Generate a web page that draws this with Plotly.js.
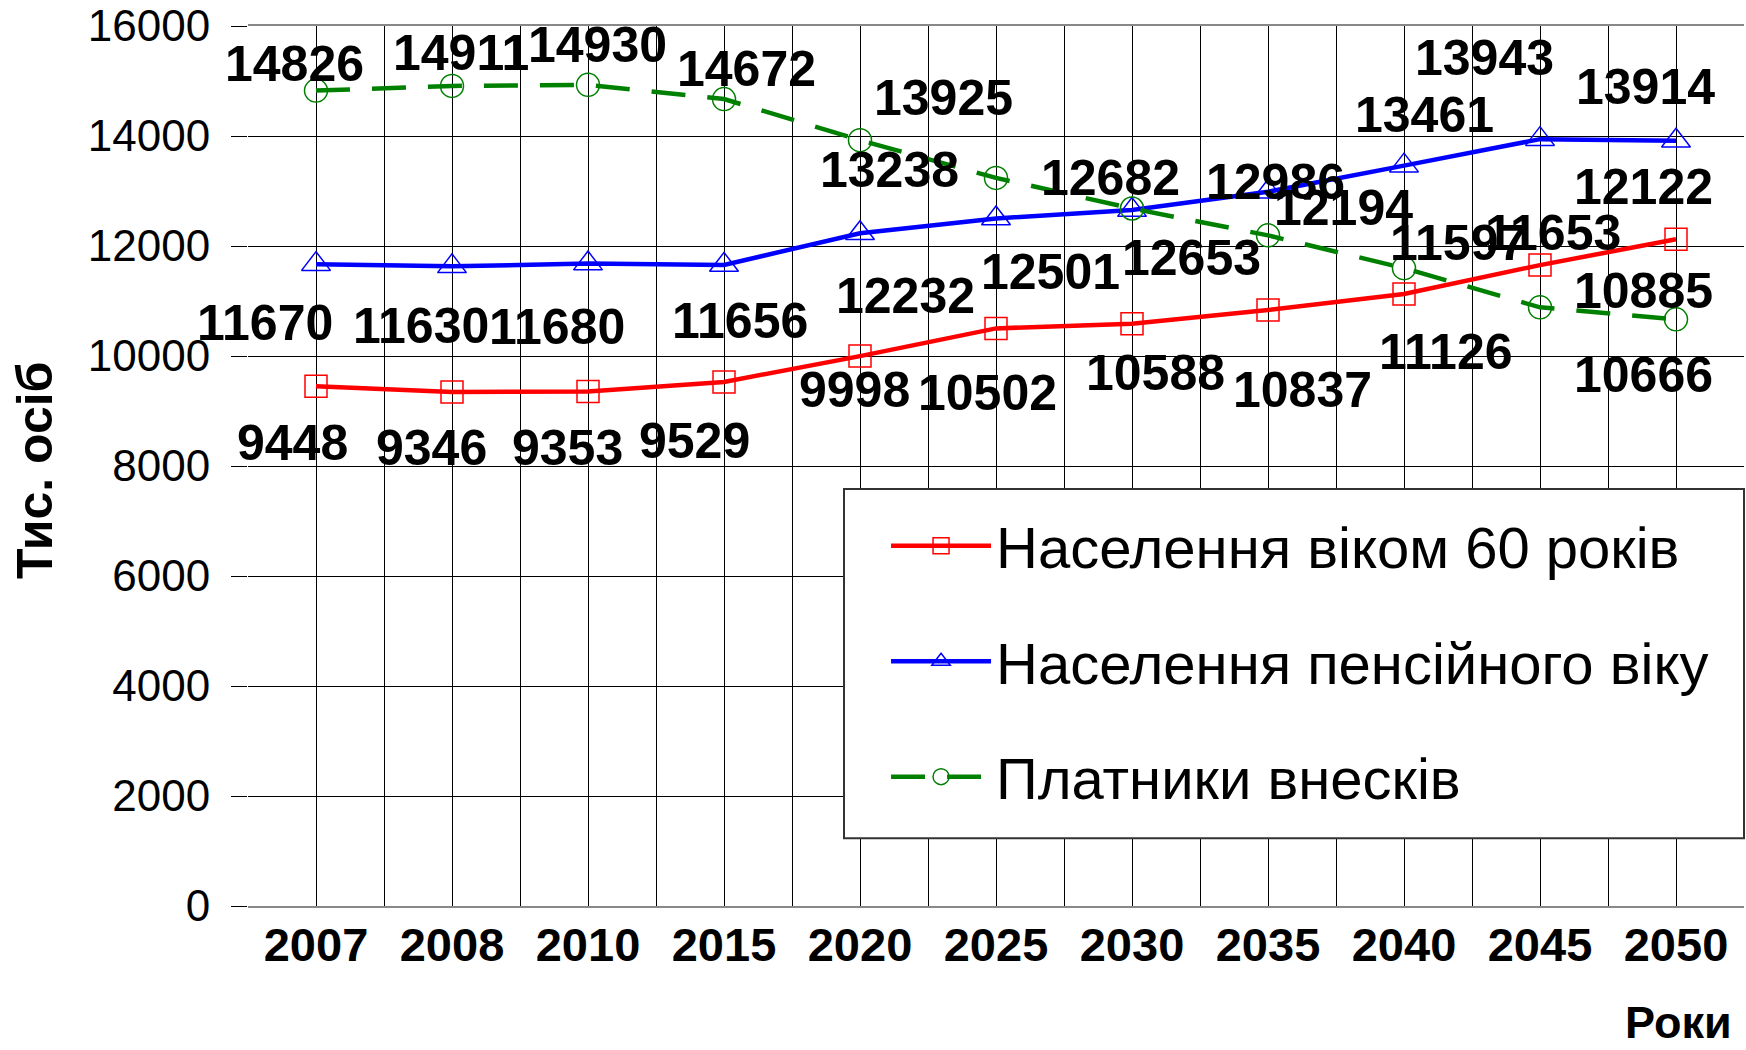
<!DOCTYPE html>
<html>
<head>
<meta charset="utf-8">
<script src="https://cdn.plot.ly/plotly-3.0.1.min.js"></script>
<style>
  html, body { margin: 0; padding: 0; background: #ffffff; }
  #chart { width: 1746px; height: 1050px; }
</style>
</head>
<body>
<div id="chart"></div>
<script>
// ---------- data ----------
const years = ['2007', '2008', '2010', '2015', '2020', '2025', '2030', '2035', '2040', '2045', '2050'];
const age60 = [9448, 9346, 9353, 9529, 9998, 10502, 10588, 10837, 11126, 11653, 12122];
const pensionAge = [11670, 11630, 11680, 11656, 12232, 12501, 12653, 12986, 13461, 13943, 13914];
const contributors = [14826, 14911, 14930, 14672, 13925, 13238, 12682, 12194, 11597, 10885, 10666];
const seriesNames = ['Населення віком 60 років', 'Населення пенсійного віку', 'Платники внесків'];
const yAxisTitle = 'Тис. осіб';
const xAxisTitle = 'Роки';

// ---------- styles ----------
const colors = ['#ff0000', '#0000ff', '#008000'];
const symbols = ['square-open', 'triangle-up-open', 'circle-open'];
const markerSizes = [22, 25, 23];
const dashes = ['solid', 'solid', '34px,22px'];
// label offsets in pixels relative to each point: [dx, dy] (dy positive = down)
const labelOffsets = [
  [[-24, 57], [-21, 56], [-21, 56], [-30, 59], [-6, 34], [-9, 65], [23, 49], [34, 80], [42, 58], [13, -32], [-33, -52]],
  [[-51, 59], [-31, 60], [-31, 63], [16, 56], [45, 63], [54, 54], [59, 48], [7, -10], [20, -51], [-56, -81], [-31, -54]],
  [[-22, -27], [9, -33], [9, -40], [22, -30], [83, -42], [-107, -8], [-22, -30], [75, -27], [54, -25], [103, -16], [-33, 56]]
];

const seriesValues = [age60, pensionAge, contributors];
const SANS = '"Liberation Sans", Arial, sans-serif';

const traces = seriesValues.map((vals, i) => ({
  type: 'scatter',
  mode: 'lines+markers',
  x: years,
  y: vals,
  name: seriesNames[i],
  legendgroup: 'g' + i,
  line: { color: colors[i], width: 4.5, dash: dashes[i] },
  marker: { symbol: symbols[i], size: markerSizes[i], color: colors[i], line: { color: colors[i], width: 1.5 } },
  hoverinfo: 'x+y+name',
  xaxis: 'x',
  yaxis: 'y'
}));

// helper trace for the boundary gridlines axis
traces.push({
  type: 'scatter', mode: 'none', x: years, y: years.map(() => null),
  xaxis: 'x2', yaxis: 'y', showlegend: false, hoverinfo: 'skip'
});

const annotations = [];
seriesValues.forEach((vals, i) => {
  vals.forEach((v, j) => {
    annotations.push({
      x: j, y: v, xref: 'x', yref: 'y',
      text: '<b>' + v + '</b>', showarrow: false,
      xanchor: 'center', yanchor: 'middle',
      xshift: labelOffsets[i][j][0], yshift: -labelOffsets[i][j][1],
      font: { family: SANS, size: 50, color: '#000000' }
    });
  });
});

// axis titles placed like the original
annotations.push({
  xref: 'paper', yref: 'paper', x: -0.1424, y: 0.4955,
  text: '<b>' + yAxisTitle + '</b>', textangle: -90, showarrow: false,
  xanchor: 'center', yanchor: 'middle',
  font: { family: SANS, size: 50, color: '#000000' }
});
annotations.push({
  xref: 'paper', yref: 'paper', x: 0.9559, y: -0.1636,
  text: '<b>' + xAxisTitle + '</b>', showarrow: false,
  xanchor: 'center', yanchor: 'bottom',
  font: { family: SANS, size: 45, color: '#000000' }
});

const layout = {
  width: 1746,
  height: 1050,
  margin: { l: 248, r: 2, t: 26, b: 144, pad: 0 },
  paper_bgcolor: '#ffffff',
  plot_bgcolor: '#ffffff',
  showlegend: true,
  legend: {
    x: 0.4265, y: 0.4595, xanchor: 'left', yanchor: 'top',
    bgcolor: 'rgba(0,0,0,0)', borderwidth: 0,
    font: { family: SANS, size: 58, color: '#000000' },
    tracegroupgap: 37,
    itemwidth: 100
  },
  xaxis: {
    type: 'category',
    categoryorder: 'array', categoryarray: years,
    range: [-0.5, years.length - 0.5],
    tickson: 'labels',
    showgrid: true, gridcolor: '#000000', gridwidth: 1,
    showline: true, linecolor: '#888888', linewidth: 2, mirror: true,
    ticks: '', ticklabelstandoff: -3,
    tickfont: { family: SANS, size: 47, color: '#000000', weight: 'bold' },
    zeroline: false
  },
  xaxis2: {
    type: 'category', overlaying: 'x', anchor: 'y',
    categoryorder: 'array', categoryarray: years,
    range: [-0.5, years.length - 0.5],
    tickson: 'boundaries',
    showgrid: true, gridcolor: '#000000', gridwidth: 1,
    showticklabels: false, ticks: '', showline: false, zeroline: false
  },
  yaxis: {
    range: [0, 16000],
    dtick: 2000, tick0: 0, tickformat: 'd',
    ticklabeloverflow: 'allow',
    showgrid: true, gridcolor: '#000000', gridwidth: 1,
    ticks: 'outside', ticklen: 16, tickcolor: '#000000', tickwidth: 1,
    ticklabelstandoff: 12,
    tickfont: { family: SANS, size: 44, color: '#000000' },
    zeroline: false, showline: false
  },
  shapes: [{
    type: 'rect', xref: 'paper', yref: 'paper',
    x0: 0.3984, x1: 1.0, y0: 0.077, y1: 0.4739,
    fillcolor: '#ffffff', line: { color: '#333333', width: 2 }, layer: 'above'
  }],
  annotations: annotations
};

Plotly.newPlot('chart', traces, layout, { displayModeBar: false, responsive: false });
</script>
</body>
</html>
